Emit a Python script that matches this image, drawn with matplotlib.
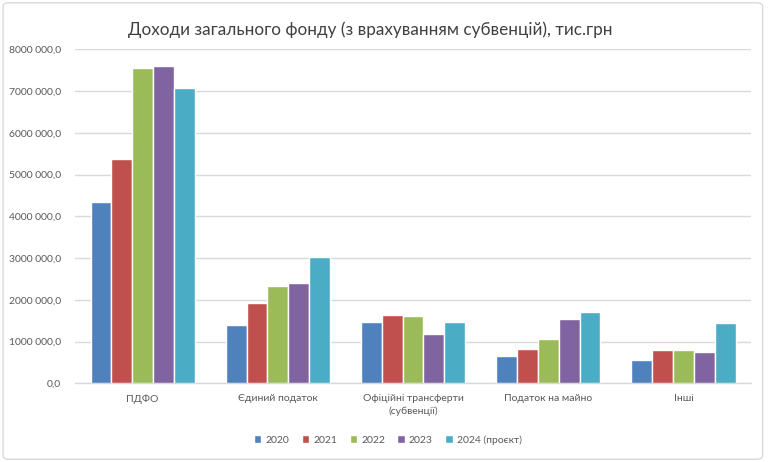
import numpy as np
import matplotlib
matplotlib.use("Agg")
import matplotlib.pyplot as plt
from matplotlib.patches import FancyBboxPatch

plt.rcParams["font.family"] = ["Lato", "DejaVu Sans"]

categories = ["ПДФО", "Єдиний податок", "Офіційні трансферти\n(субвенції)",
              "Податок на майно", "Інші"]
years = ["2020", "2021", "2022", "2023", "2024 (проєкт)"]
v2020 = [4350000, 1400000, 1470000, 650000, 550000]
v2021 = [5370000, 1920000, 1640000, 830000, 810000]
v2022 = [7550000, 2330000, 1620000, 1070000, 810000]
v2023 = [7600000, 2400000, 1170000, 1530000, 760000]
v2024 = [7080000, 3020000, 1470000, 1720000, 1450000]
yticks = [0, 1000000, 2000000, 3000000, 4000000, 5000000, 6000000, 7000000, 8000000]
ytick_labels = ["0,0", "1000 000,0", "2000 000,0", "3000 000,0", "4000 000,0",
                "5000 000,0", "6000 000,0", "7000 000,0", "8000 000,0"]
title = "Доходи загального фонду (з врахуванням субвенцій), тис.грн"

colors = ["#4F81BD", "#C0504D", "#9BBB59", "#8064A2", "#4BACC6"]
series = [v2020, v2021, v2022, v2023, v2024]

fig = plt.figure(figsize=(7.68, 4.62), dpi=100)
ax = fig.add_axes([0.0977, 0.1703, 0.8803, 0.7227])

x = np.arange(len(categories))
step = 0.154
for i, (vals, c, lab) in enumerate(zip(series, colors, years)):
    ax.bar(x + (i - 2) * step, vals, width=step, color=c, edgecolor="white",
           linewidth=1.0, label=lab, zorder=3)

ax.set_xlim(-0.5, len(categories) - 0.5)
ax.set_ylim(0, 8000000)
ax.set_yticks(yticks)
ax.set_yticklabels(ytick_labels)
ax.set_xticks(x)
ax.set_xticklabels(categories, linespacing=1.45)
ax.tick_params(axis="both", length=0, colors="#595959", labelsize=7.5)
ax.tick_params(axis="x", pad=8)
ax.tick_params(axis="y", pad=10)
ax.grid(axis="y", color="#D9D9D9", linewidth=1, zorder=0)
for s in ["top", "right", "left"]:
    ax.spines[s].set_visible(False)
ax.spines["bottom"].set_color("#D9D9D9")
ax.spines["bottom"].set_linewidth(1)

fig.text(0.482, 0.935, title, ha="center", va="center", fontsize=12.3, color="#404040")

fig.legend(loc="center", bbox_to_anchor=(0.505, 0.048), ncol=5, frameon=False,
           fontsize=7.5, handlelength=0.7, handleheight=0.7,
           handletextpad=0.4, columnspacing=1.2, labelcolor="#595959")

fig.patches.append(FancyBboxPatch((0.004, 0.006), 0.989, 0.988,
                                  boxstyle="round,pad=0,rounding_size=0.008",
                                  transform=fig.transFigure, fill=False,
                                  edgecolor="#D9D9D9", linewidth=1))

fig.savefig("out.png", dpi=100)
